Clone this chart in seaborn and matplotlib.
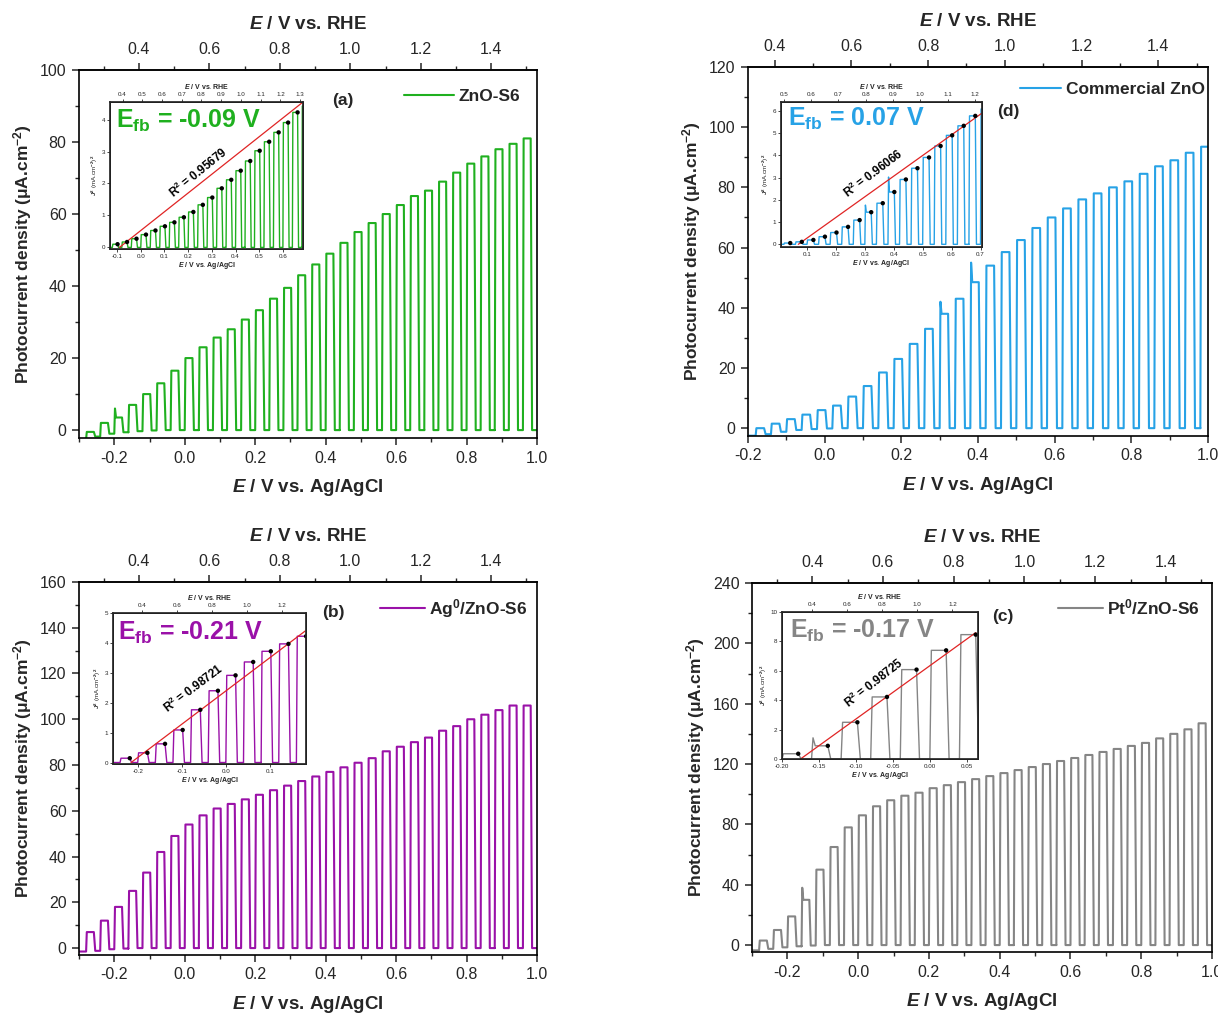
import numpy as np
import pandas as pd
import matplotlib
matplotlib.use("Agg")
import matplotlib.pyplot as plt
import seaborn as sns
from matplotlib.ticker import MultipleLocator, FormatStrFormatter

# ---------------- data ----------------
RHE_OFFSET = 0.53          # E(RHE) = E(Ag/AgCl) + offset
PERIOD = 0.04              # chopping period (V)
ON_WIDTH = 0.022           # illuminated part of each period (V)

# Panel (a) ZnO-S6
start_a = -0.28
on_a = [-0.5, 2.0, 3.5, 7.0, 10.0, 13.0, 16.5, 20.0, 23.0, 25.7, 28.0, 30.7, 33.3, 36.5, 39.5, 43.0,
        46.0, 49.0, 52.0, 55.0, 57.5, 60.0, 62.5, 65.0, 66.5, 69.0, 71.5, 74.0, 76.0, 78.0, 79.5, 81.0]
dark_a = [-2.5, -1.8, -1.0, -0.6, -0.3, -0.1] + [0.0] * 27
spikes_a = [(2, 6.0)]

# Panel (d) Commercial ZnO
start_d = -0.18
on_d = [0.0, 1.5, 3.0, 4.5, 6.0, 7.5, 10.5, 14.0, 18.5, 23.0, 28.0, 33.0, 38.0, 43.0, 48.5,
        54.0, 58.5, 62.5, 66.5, 70.0, 73.0, 76.0, 78.0, 80.0, 82.0, 84.5, 87.0, 89.0, 91.5, 93.5]
dark_d = [-2.5, -2.0, -1.2, -0.6, -0.3, -0.1] + [0.0] * 25
spikes_d = [(12, 42.0), (14, 55.0)]

# Panel (b) Ag0/ZnO-S6
start_b = -0.28
on_b = [7.0, 12.0, 18.0, 25.0, 33.0, 42.0, 49.0, 54.0, 58.0, 61.0, 63.0, 65.0, 67.0, 69.0, 71.0, 73.0,
        75.0, 77.0, 79.0, 81.0, 83.0, 86.0, 88.0, 90.0, 92.0, 95.0, 97.0, 100.0, 102.0, 104.0, 106.0, 106.0]
dark_b = [-1.5, -1.2, -0.5, -0.2] + [0.0] * 29
spikes_b = []

# Panel (c) Pt0/ZnO-S6
start_c = -0.28
on_c = [3.0, 10.0, 19.0, 30.0, 50.0, 65.0, 78.0, 86.0, 92.0, 96.0, 99.0, 101.0, 104.0, 106.0, 108.0, 110.0,
        112.0, 114.0, 116.0, 118.0, 120.0, 122.0, 124.0, 126.0, 128.0, 130.0, 132.0, 134.0, 137.0, 140.0, 143.0, 147.0]
dark_c = [-3.5, -2.5, -1.5, -0.8, -0.3] + [0.0] * 28
spikes_c = [(3, 38.0)]

# Insets: linear fits (Efb intercept) and R2
efb = {"a": "-0.09", "d": "0.07", "b": "-0.21", "c": "-0.17"}
r2 = {"a": "0.95679", "d": "0.96066", "b": "0.98721", "c": "0.98725"}
fit_a = ([-0.09, 0.685], [0.0, 4.55])
fit_d = ([0.07, 0.705], [0.0, 5.9])
fit_b = ([-0.215, 0.18], [0.0, 4.4])
fit_c = ([-0.175, 0.062], [0.0, 8.6])

labels = {"a": "ZnO-S6", "d": "Commercial ZnO", "b": "Ag$^0$/ZnO-S6", "c": "Pt$^0$/ZnO-S6"}
colors = {"a": "#1fb01f", "d": "#27a2e6", "b": "#9a11a8", "c": "#858585"}

# ---------------- style ----------------
sns.set_theme(style="ticks")
plt.rcParams["font.family"] = ["Liberation Sans", "DejaVu Sans"]
plt.rcParams["axes.unicode_minus"] = False
plt.rcParams["mathtext.fontset"] = "custom"
plt.rcParams["mathtext.rm"] = "Liberation Sans:bold"
plt.rcParams["mathtext.bf"] = "Liberation Sans:bold"
plt.rcParams["mathtext.it"] = "Liberation Sans:italic:bold"
plt.rcParams["mathtext.sf"] = "Liberation Sans:bold"


def chopped_trace(start, on, dark, spikes):
    sp = dict(spikes)
    xs, ys = [], []
    prev = dark[0]
    xs.append(start - 0.02)
    ys.append(prev)
    for k, v in enumerate(on):
        d = dark[k + 1]
        s = start + k * PERIOD
        xs.append(s); ys.append(prev)
        if k in sp:
            xs += [s + 0.002, s + 0.005]
            ys += [sp[k], v]
        else:
            xs.append(s + 0.002); ys.append(v)
        xs += [s + ON_WIDTH, s + ON_WIDTH + 0.004, s + PERIOD]
        ys += [v, d, d]
        prev = d
    return np.array(xs), np.array(ys)


fig = plt.figure(figsize=(12.18, 10.13), dpi=100)
fig.patch.set_facecolor("white")

panels = {
    "a": dict(rect=[0.0649, 0.5676, 0.3760, 0.3633], data=(start_a, on_a, dark_a, spikes_a),
              xlim=(-0.3, 1.0), ylim=(-2.2, 100), ystep=20,
              letter=(0.576, 0.918), leg=(0.963, 0.927), hl=2.9,
              inset=[0.0903, 0.7542, 0.1585, 0.1451], ixlim=(-0.13, 0.685), iylim=(-0.05, 4.55),
              itop=(0.336, 1.315), itstep=0.1, ibstep=0.1, iystep=1, ifmt="%.1f", fit=fit_a,
              efbpos=(0.03, 0.87), r2pos=(0.46, 0.52), r2rot=39),
    "d": dict(rect=[0.6141, 0.5696, 0.3777, 0.3643], data=(start_d, on_d, dark_d, spikes_d),
              xlim=(-0.2, 1.0), ylim=(-2.6, 120), ystep=20,
              letter=(0.565, 0.878), leg=(0.993, 0.94), hl=2.4,
              inset=[0.6412, 0.7562, 0.1650, 0.1431], ixlim=(0.01, 0.705), iylim=(-0.12, 6.4),
              itop=(0.49, 1.226), itstep=0.1, ibstep=0.1, iystep=1, ifmt="%.1f", fit=fit_d,
              efbpos=(0.035, 0.885), r2pos=(0.46, 0.51), r2rot=37),
    "b": dict(rect=[0.0649, 0.0573, 0.3760, 0.3682], data=(start_b, on_b, dark_b, spikes_b),
              xlim=(-0.3, 1.0), ylim=(-3.0, 160), ystep=20,
              letter=(0.555, 0.917), leg=(0.98, 0.93), hl=2.6,
              inset=[0.0928, 0.2458, 0.1585, 0.1490], ixlim=(-0.256, 0.182), iylim=(-0.05, 5.0),
              itop=(0.236, 1.339), itstep=0.2, ibstep=0.1, iystep=1, ifmt="%.1f", fit=fit_b,
              efbpos=(0.026, 0.87), r2pos=(0.415, 0.50), r2rot=37),
    "c": dict(rect=[0.6174, 0.0602, 0.3777, 0.3643], data=(start_c, on_c, dark_c, spikes_c),
              xlim=(-0.3, 1.0), ylim=(-4.6, 240), ystep=40,
              letter=(0.546, 0.908), leg=(0.974, 0.935), hl=2.6,
              inset=[0.6420, 0.2507, 0.1609, 0.1451], ixlim=(-0.2, 0.065), iylim=(0.0, 10.0),
              itop=(0.23, 1.345), itstep=0.2, ibstep=0.05, iystep=2, ifmt="%.2f", fit=fit_c,
              efbpos=(0.04, 0.875), r2pos=(0.47, 0.52), r2rot=38),
}

TICK_FS = 11.5
LAB_FS = 13.5

for key, p in panels.items():
    col = colors[key]
    start, on, dark, spikes = p["data"]
    x, y = chopped_trace(start, on, dark, spikes)

    ax = fig.add_axes(p["rect"])
    sns.lineplot(x=x, y=y, ax=ax, color=col, lw=1.5, estimator=None, sort=False,
                 label=labels[key])
    ax.set_xlim(*p["xlim"])
    ax.set_ylim(*p["ylim"])
    ax.xaxis.set_major_locator(MultipleLocator(0.2))
    ax.xaxis.set_minor_locator(MultipleLocator(0.1))
    ax.yaxis.set_major_locator(MultipleLocator(p["ystep"]))
    ax.yaxis.set_minor_locator(MultipleLocator(p["ystep"] / 2))
    ax.xaxis.set_major_formatter(FormatStrFormatter("%.1f"))
    ax.tick_params(which="major", direction="out", length=5, width=1.1, labelsize=TICK_FS,
                   top=False, right=False, pad=4)
    ax.tick_params(which="minor", direction="out", length=3, width=1.0, top=False, right=False)
    for s in ax.spines.values():
        s.set_linewidth(1.2)
        s.set_color("black")
        s.set_visible(True)
    ax.set_xlabel(r"$E$ / V vs. Ag/AgCl", fontsize=LAB_FS, fontweight="bold", labelpad=8)
    ax.set_ylabel(r"Photocurrent density ($\mathregular{\mu}$A.cm$^{-2}$)", fontsize=12.5,
                  fontweight="bold", labelpad=4)

    sec = ax.secondary_xaxis("top", functions=(lambda v: v + RHE_OFFSET, lambda v: v - RHE_OFFSET))
    sec.xaxis.set_major_locator(MultipleLocator(0.2))
    sec.xaxis.set_minor_locator(MultipleLocator(0.1))
    sec.xaxis.set_major_formatter(FormatStrFormatter("%.1f"))
    sec.tick_params(which="major", direction="out", length=5, width=1.1, labelsize=TICK_FS, pad=4)
    sec.tick_params(which="minor", direction="out", length=3, width=1.0)
    sec.set_xlabel(r"$E$ / V vs. RHE", fontsize=LAB_FS, fontweight="bold", labelpad=10)

    ax.text(p["letter"][0], p["letter"][1], f"({key})", transform=ax.transAxes, fontsize=12.5,
            fontweight="bold", ha="center", va="center")
    leg = ax.legend(loc="center right", bbox_to_anchor=p["leg"], frameon=False, borderpad=0,
                    borderaxespad=0, handlelength=p["hl"], handletextpad=0.25,
                    prop={"weight": "bold", "size": 12.5, "family": ["Liberation Sans", "DejaVu Sans"]})

    # ---- inset: J^2 vs E ----
    ins = fig.add_axes(p["inset"])
    ins.set_facecolor("white")
    mask = (x >= p["ixlim"][0] - 0.05) & (x <= p["ixlim"][1] + 0.05)
    jx = x[mask]
    jy = np.clip(y[mask], 0, None) ** 2 / 1000.0
    sns.lineplot(x=jx, y=jy, ax=ins, color=col, lw=1.0, estimator=None, sort=False, legend=False)
    sns.lineplot(x=p["fit"][0], y=p["fit"][1], ax=ins, color="#e02424", lw=0.9, estimator=None,
                 sort=False, legend=False)
    ends = np.array([start + k * PERIOD + ON_WIDTH for k in range(len(on))])
    vals = np.array(on) ** 2 / 1000.0
    sel = (ends > p["ixlim"][0]) & (ends < p["ixlim"][1])
    sns.scatterplot(x=ends[sel], y=vals[sel], ax=ins, color="black", s=10, edgecolor="none",
                    zorder=5, legend=False)
    ins.set_xlim(*p["ixlim"])
    ins.set_ylim(*p["iylim"])
    ins.xaxis.set_major_locator(MultipleLocator(p["ibstep"]))
    ins.xaxis.set_major_formatter(FormatStrFormatter(p["ifmt"]))
    ins.yaxis.set_major_locator(MultipleLocator(p["iystep"]))
    ins.yaxis.set_major_formatter(FormatStrFormatter("%d"))
    ins.tick_params(direction="out", length=2, width=0.6, labelsize=4.5, pad=1.5)
    for s in ins.spines.values():
        s.set_linewidth(0.7)
        s.set_color("black")
    ins.set_xlabel(r"$E$ / V vs. Ag/AgCl", fontsize=5, fontweight="bold", labelpad=1)
    ins.set_ylabel(r"$J^2$ (mA.cm$^{-2}$)$^2$", fontsize=4.5, labelpad=1)
    top = ins.twiny()
    top.set_xlim(*p["itop"])
    top.xaxis.set_major_locator(MultipleLocator(p["itstep"]))
    top.xaxis.set_major_formatter(FormatStrFormatter("%.1f"))
    top.tick_params(direction="out", length=2, width=0.6, labelsize=4.5, pad=1.5)
    top.set_xlabel(r"$E$ / V vs. RHE", fontsize=5, fontweight="bold", labelpad=2)
    ins.text(p["efbpos"][0], p["efbpos"][1], r"E$_{\mathrm{fb}}$ = " + efb[key] + " V",
             transform=ins.transAxes, fontsize=18, fontweight="bold", color=col,
             ha="left", va="center")
    ins.text(p["r2pos"][0], p["r2pos"][1], r"R$^2$ = " + r2[key], transform=ins.transAxes,
             fontsize=8.5, fontweight="bold", color="black", rotation=p["r2rot"],
             ha="center", va="center")

fig.savefig("out.png", dpi=100, facecolor="white")
